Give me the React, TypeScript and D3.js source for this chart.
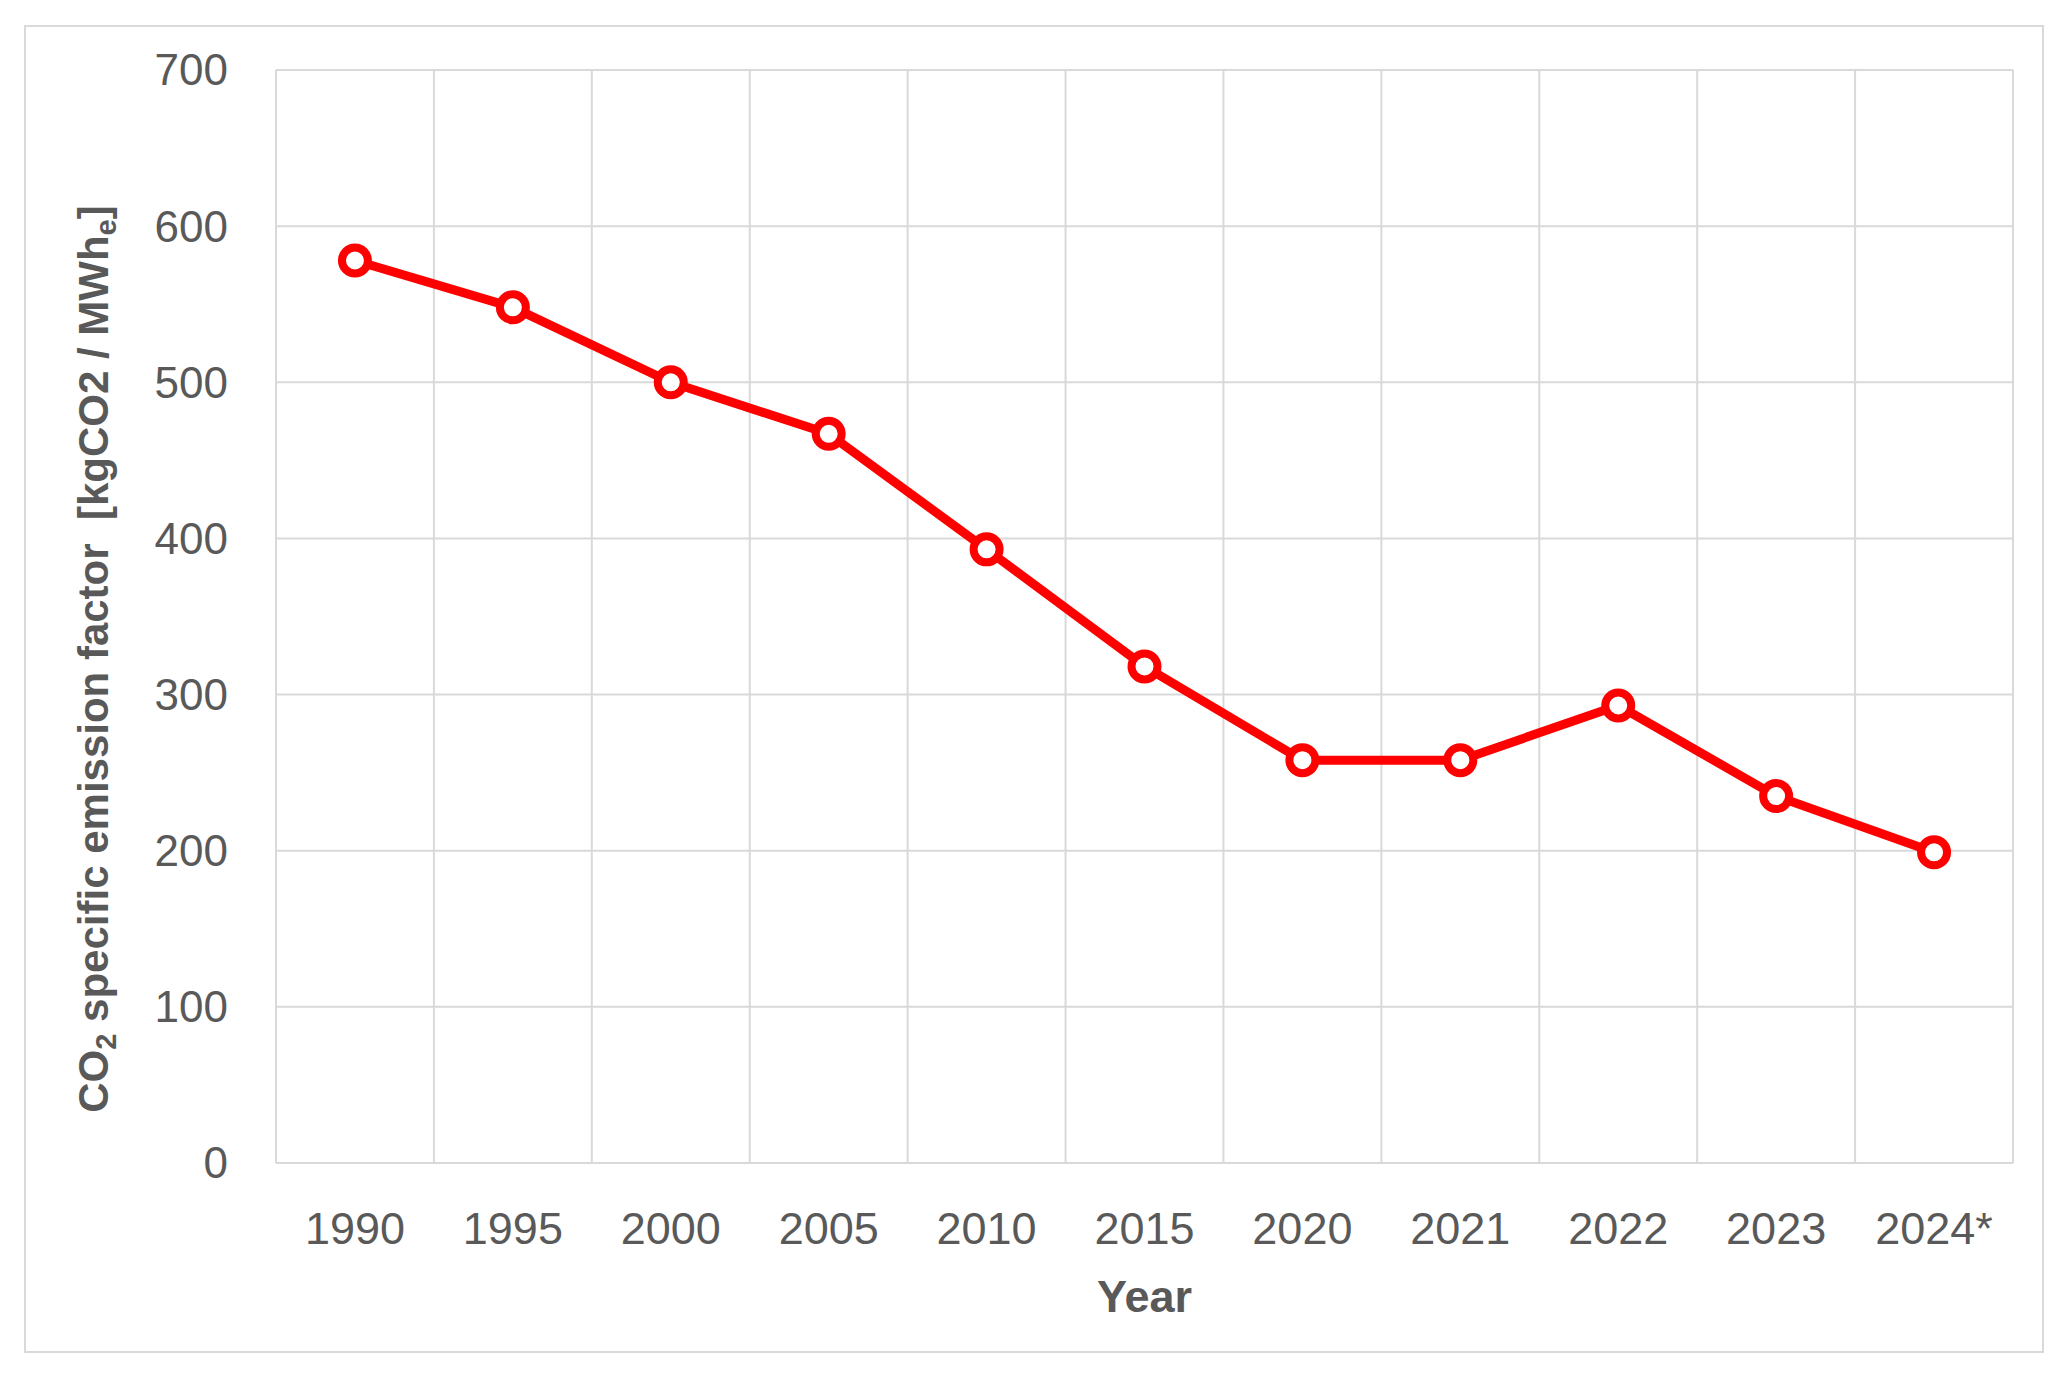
import * as d3 from 'd3'

const YEARS = ['1990', '1995', '2000', '2005', '2010', '2015', '2020', '2021', '2022', '2023', '2024*']
const EMISSION = [578, 548, 500, 467, 393, 318, 258, 258, 293, 235, 199]
const Y_TICKS = [0, 100, 200, 300, 400, 500, 600, 700]

const W = 2071
const H = 1377
const PLOT = { left: 276, top: 70, right: 2013, bottom: 1163 }
const GRID = '#d9d9d9'
const TEXT = '#595959'
const RED = '#ff0000'
const FONT = '"Liberation Sans", Arial, sans-serif'

export default function App() {
  const x = d3.scaleBand<string>().domain(YEARS).range([PLOT.left, PLOT.right]).paddingInner(0).paddingOuter(0)
  const y = d3.scaleLinear().domain([0, 700]).range([PLOT.bottom, PLOT.top])
  const cx = (d: string) => (x(d) as number) + x.bandwidth() / 2

  const pts = YEARS.map((yr, i) => ({ yr, v: EMISSION[i] }))
  const line = d3.line<{ yr: string; v: number }>().x(d => cx(d.yr)).y(d => y(d.v))

  // band edges for vertical gridlines
  const edges = YEARS.map(d => x(d) as number).concat([PLOT.right])

  return (
    <div style={{ position: 'absolute', left: 0, top: 0 }}>
      <svg width={W} height={H} style={{ display: 'block', background: '#fff' }} fontFamily={FONT}>
        <rect x={25} y={26} width={2018} height={1326} fill="#fff" stroke={GRID} strokeWidth={2} />

        {/* horizontal gridlines */}
        {Y_TICKS.map(t => (
          <line key={'h' + t} x1={PLOT.left} x2={PLOT.right} y1={y(t)} y2={y(t)} stroke={GRID} strokeWidth={2} />
        ))}
        {/* vertical gridlines between categories */}
        {edges.map((e, i) => (
          <line key={'v' + i} x1={e} x2={e} y1={PLOT.top} y2={PLOT.bottom} stroke={GRID} strokeWidth={2} />
        ))}

        {/* y tick labels */}
        {Y_TICKS.map(t => (
          <text key={'yt' + t} x={228} y={y(t)} dy="0.35em" textAnchor="end" fontSize={44} fill={TEXT}>
            {t}
          </text>
        ))}

        {/* x tick labels */}
        {YEARS.map(yr => (
          <text key={'xt' + yr} x={cx(yr)} y={1244} textAnchor="middle" fontSize={45} fill={TEXT}>
            {yr}
          </text>
        ))}

        {/* axis titles */}
        <text x={PLOT.left + (PLOT.right - PLOT.left) / 2} y={1312} textAnchor="middle" fontSize={45} fontWeight="bold" fill={TEXT}>
          Year
        </text>
        <text
          transform={`translate(108, ${(198 + 1120) / 2}) rotate(-90)`}
          textAnchor="middle"
          fontSize={42}
          fontWeight="bold"
          fill={TEXT}
        >
          CO<tspan fontSize={29} dy={8}>2</tspan>
          <tspan dy={-8}>{' specific emission factor \u00a0[kgCO2 / MWh'}</tspan>
          <tspan fontSize={29} dy={8}>e</tspan>
          <tspan dy={-8}>]</tspan>
        </text>

        {/* series */}
        <path d={line(pts) ?? ''} fill="none" stroke={RED} strokeWidth={9} strokeLinejoin="round" />
        {pts.map(p => (
          <circle key={'c' + p.yr} cx={cx(p.yr)} cy={y(p.v)} r={13} fill="#fff" stroke={RED} strokeWidth={8} />
        ))}
      </svg>
    </div>
  )
}
